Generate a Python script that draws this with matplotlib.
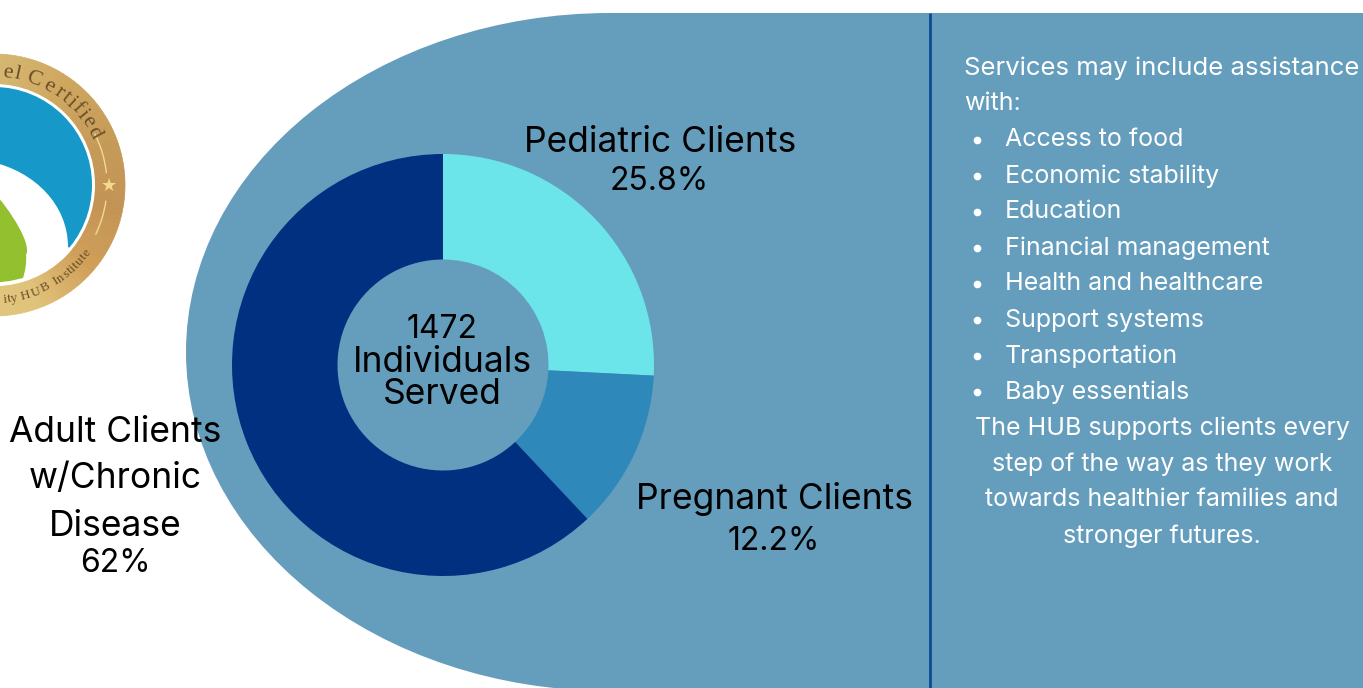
import numpy as np
import matplotlib
matplotlib.use("Agg")
import matplotlib.pyplot as plt
from matplotlib.colors import LinearSegmentedColormap
from matplotlib.font_manager import FontProperties
from matplotlib.patches import Circle, Ellipse, Rectangle, PathPatch, Wedge, Arc
from matplotlib.path import Path
from matplotlib.textpath import TextPath

labels = ["Pediatric Clients", "Pregnant Clients", "Adult Clients"]
values = [25.8, 12.2, 62]
colors = ["#6ce5ea", "#2e88b9", "#00307f"]
total_served = "1472"

intro_lines = ["Services may include assistance", "with:"]
services = ["Access to food", "Economic stability", "Education", "Financial management",
            "Health and healthcare", "Support systems", "Transportation", "Baby essentials"]
closing_lines = ["The HUB supports clients every", "step of the way as they work",
                 "towards healthier families and", "stronger futures."]

W, H = 1363, 688
plt.rcParams['font.family'] = ['Inter', 'DejaVu Sans']

fig = plt.figure(figsize=(W / 100, H / 100), dpi=100, facecolor="white")
ax = fig.add_axes([0, 0, 1, 1])
ax.set_xlim(0, W)
ax.set_ylim(H, 0)
ax.axis("off")

# background shape
blue_bg = "#659ebd"
ax.add_patch(Ellipse((610, 352), 848, 678, color=blue_bg, lw=0))
ax.add_patch(Rectangle((610, 13), W - 610, H, color=blue_bg, lw=0))
ax.plot([930, 930], [13, H], color="#0d4a8f", lw=2, solid_capstyle="butt")

# badge
bx, by = -6, 185
gold_cmap = LinearSegmentedColormap.from_list("gold", [
    (0.0, "#d6b872"), (0.17, "#cfa860"), (0.39, "#c59a58"), (0.55, "#c39355"),
    (0.72, "#cf9f58"), (0.89, "#e0c37a"), (1.0, "#e2c67d")])
for a in range(0, 180, 2):
    c = gold_cmap(a / 180)
    ax.add_patch(Wedge((bx, by), 131, a - 90, a - 88, facecolor=c, edgecolor=c, lw=0.5))
    ax.add_patch(Wedge((bx, by), 131, 88 - a + 180, 90 - a + 180, facecolor=c, edgecolor=c, lw=0.5))
ring = Circle((bx, by), 101, color="white", lw=0)
ax.add_patch(ring)
ax.add_patch(Circle((bx, by), 98, color="#1699c9", lw=0))
white_verts = [(-8, 162), (35, 172), (68, 205), (68, 247), (110, 270), (60, 320), (-8, 320), (-8, 162)]
white_codes = [Path.MOVETO, Path.CURVE4, Path.CURVE4, Path.CURVE4, Path.LINETO, Path.LINETO, Path.LINETO,
               Path.CLOSEPOLY]
white_part = PathPatch(Path(white_verts, white_codes), color="white", lw=0)
ax.add_patch(white_part)
white_part.set_clip_path(ring)
green_verts = [(-8, 190), (12, 212), (32, 245), (26, 255), (27, 262), (25, 272), (23, 278), (10, 281),
               (-8, 283), (-8, 190)]
green_codes = [Path.MOVETO, Path.CURVE4, Path.CURVE4, Path.CURVE4, Path.CURVE4, Path.CURVE4, Path.CURVE4,
               Path.LINETO, Path.LINETO, Path.CLOSEPOLY]
ax.add_patch(PathPatch(Path(green_verts, green_codes), color="#93c02e", lw=0))
ax.text(109, 186, "★", color="#f3da8c", fontsize=13, ha="center", va="center", family="DejaVu Sans")
ax.add_patch(Arc((bx, by), 226, 226, theta1=-27, theta2=-6, color="#f0d998", lw=1))
ax.add_patch(Arc((bx, by), 226, 226, theta1=8, theta2=26, color="#f0d998", lw=1))


def arc_text(txt, start, r, size, track, top=True):
    # one glyph at a time along the ring, spaced by its real width
    prop = FontProperties(family="Liberation Serif")
    px = size * 100 / 72
    for i, ch in enumerate(txt):
        before = TextPath((0, 0), txt[:i] + "|", size=px, prop=prop).get_extents().x1
        own = TextPath((0, 0), ch + "|", size=px, prop=prop).get_extents().x1
        offset = np.degrees((before + own * 0.25) * track / r)
        if top:
            a = np.radians(start + offset)
            rot = -np.degrees(a)
        else:
            a = np.radians(start - offset)
            rot = 180 - np.degrees(a)
        x = bx + r * np.sin(a)
        y = by - r * np.cos(a)
        ax.text(x, y, ch, fontsize=size, color="#6b4f2a", family="Liberation Serif",
                rotation=rot, rotation_mode="anchor", ha="center", va="center")


arc_text("el Certified", 3, 113, 16, 1.22)
arc_text("ity HUB Institute", 176, 115, 9.5, 1.12, top=False)

# donut
ax2 = fig.add_axes([(443 - 212) / W, 1 - (365 + 212) / H, 424 / W, 424 / H])
ax2.pie(values, colors=colors, startangle=90, counterclock=False, radius=1.0,
        wedgeprops={"width": 0.5, "linewidth": 0})
ax2.set_xlim(-212 / 211, 212 / 211)
ax2.set_ylim(-212 / 211, 212 / 211)

# labels
label_size = 25.5
num_size = 23
ax.text(660, 143, labels[0], fontsize=label_size, ha="center", va="center", color="black")
ax.text(659, 181, "%.1f%%" % values[0], fontsize=num_size, ha="center", va="center", color="black")
ax.text(774, 499, labels[1], fontsize=label_size, ha="center", va="center", color="black")
ax.text(774, 542, "%.1f%%" % values[1], fontsize=num_size, ha="center", va="center", color="black")
ax.text(115, 432, labels[2], fontsize=label_size, ha="center", va="center", color="black")
ax.text(115, 479, "w/Chronic", fontsize=label_size, ha="center", va="center", color="black")
ax.text(115, 526, "Disease", fontsize=label_size, ha="center", va="center", color="black")
ax.text(115, 563, "%d%%" % values[2], fontsize=num_size, ha="center", va="center", color="black")

ax.text(442, 330, total_served, fontsize=num_size, ha="center", va="center", color="black")
ax.text(442, 362, "Individuals", fontsize=label_size, ha="center", va="center", color="black")
ax.text(442, 394, "Served", fontsize=label_size, ha="center", va="center", color="black")

# right panel
panel_size = 18
y = 68
for line in intro_lines:
    ax.text(964, y, line, fontsize=18.5 if line == intro_lines[0] else panel_size,
            color="white", ha="left", va="center")
    y += 36
for item in services:
    ax.plot([977], [y], "o", color="white", ms=5.5, mew=0)
    ax.text(1005, y, item, fontsize=panel_size, color="white", ha="left", va="center")
    y += 36
for line in closing_lines:
    ax.text(1162, y, line, fontsize=panel_size, color="white", ha="center", va="center")
    y += 36

fig.savefig("out.png", dpi=100)
